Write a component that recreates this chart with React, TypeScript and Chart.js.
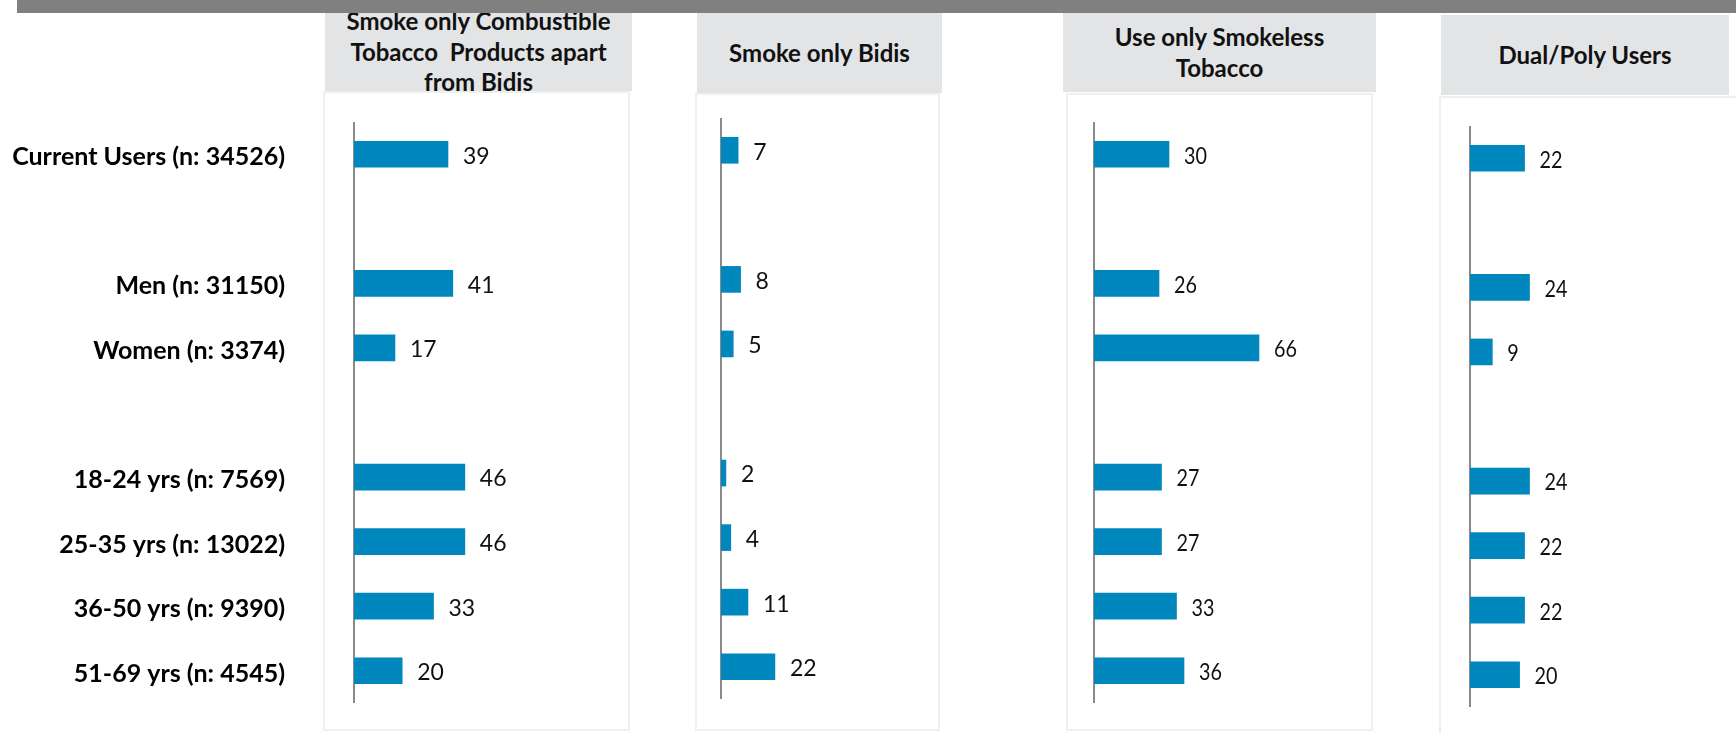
import React, { useEffect, useRef } from 'react';
import { Chart, registerables } from 'chart.js';

Chart.register(...registerables);

// ---------- data ----------
const categories = [
  'Current Users (n: 34526)',
  '',
  'Men (n: 31150)',
  'Women (n: 3374)',
  '',
  '18-24 yrs (n: 7569)',
  '25-35 yrs (n: 13022)',
  '36-50 yrs (n: 9390)',
  '51-69 yrs (n: 4545)',
];
const combustibleValues = [39, null, 41, 17, null, 46, 46, 33, 20];
const bidiValues = [7, null, 8, 5, null, 2, 4, 11, 22];
const smokelessValues = [30, null, 26, 66, null, 27, 27, 33, 36];
const dualPolyValues = [22, null, 24, 9, null, 24, 22, 22, 20];
const panelTitles = [
  'Smoke only Combustible\nTobacco  Products apart\nfrom Bidis',
  'Smoke only Bidis',
  'Use only Smokeless\nTobacco',
  'Dual/Poly Users',
];
const xMax = 100;

// ---------- layout (styles only) ----------
const BAR_COLOR = '#0088be';
const HEADER_BG = '#e3e4e6';

type PanelLayout = {
  header: { l: number; t: number; r: number; b: number };
  box: { l: number; t: number; r: number; b: number };
  axisX: number;
  axisTop: number;
  axisH: number;
  ppu: number;
  textScale: number;
  showLabels: boolean;
};

const layouts: PanelLayout[] = [
  { header: { l: 325, t: 13, r: 632, b: 91 }, box: { l: 323, t: 91, r: 630, b: 731 }, axisX: 354, axisTop: 122, axisH: 581, ppu: 2.41, textScale: 1, showLabels: true },
  { header: { l: 697, t: 13, r: 942, b: 93 }, box: { l: 695, t: 93, r: 940, b: 731 }, axisX: 721, axisTop: 118, axisH: 581, ppu: 2.45, textScale: 1, showLabels: false },
  { header: { l: 1063, t: 13, r: 1376, b: 92 }, box: { l: 1066, t: 93, r: 1373, b: 731 }, axisX: 1094, axisTop: 122, axisH: 581, ppu: 2.5, textScale: 0.86, showLabels: false },
  { header: { l: 1441, t: 15, r: 1729, b: 95 }, box: { l: 1439, t: 96, r: 1745, b: 740 }, axisX: 1470, axisTop: 126, axisH: 581, ppu: 2.48, textScale: 0.86, showLabels: false },
];

const valueLabelPlugin = {
  id: 'valueLabels',
  afterDatasetsDraw(chart: any, _args: any, opts: any) {
    const ctx = chart.ctx;
    const meta = chart.getDatasetMeta(0);
    const data = chart.data.datasets[0].data;
    ctx.save();
    ctx.font = `${opts.size}px Lato`;
    ctx.fillStyle = '#111111';
    ctx.textBaseline = 'middle';
    ctx.textAlign = 'left';
    meta.data.forEach((bar: any, i: number) => {
      const v = data[i];
      if (v === null || v === undefined) return;
      ctx.save();
      ctx.translate(bar.x + opts.gap, bar.y + opts.dy);
      ctx.scale(opts.scaleX, 1);
      ctx.fillText(String(v), 0, 0);
      ctx.restore();
    });
    ctx.restore();
  },
};

function BarPanel({ values, layout }: { values: (number | null)[]; layout: PanelLayout }) {
  const ref = useRef<HTMLCanvasElement | null>(null);
  const axisW = layout.showLabels ? layout.axisX : 10;
  const left = layout.axisX - axisW;
  const width = axisW + Math.round(xMax * layout.ppu);
  useEffect(() => {
    if (!ref.current) return;
    const chart = new Chart(ref.current, {
      type: 'bar',
      data: {
        labels: categories,
        datasets: [
          {
            data: values as any,
            backgroundColor: BAR_COLOR,
            borderWidth: 0,
            barThickness: 26,
          },
        ],
      },
      plugins: [valueLabelPlugin as any],
      options: {
        indexAxis: 'y',
        animation: false,
        responsive: false,
        maintainAspectRatio: false,
        layout: { padding: 0 },
        events: [],
        plugins: {
          legend: { display: false },
          tooltip: { enabled: false },
          valueLabels: { size: 23, gap: 15, dy: 2, scaleX: layout.textScale },
        } as any,
        scales: {
          x: { display: false, min: 0, max: xMax },
          y: {
            display: true,
            grid: { display: false, drawTicks: false },
            border: { display: true, color: '#8a8a8a', width: 2 },
            ticks: {
              display: layout.showLabels,
              autoSkip: false,
              padding: 69,
              labelOffset: 3,
              color: '#000000',
              font: { family: 'Lato', weight: 'bold', size: 25 },
            },
            afterFit: (s: any) => {
              s.width = axisW;
              s.paddingTop = 0;
              s.paddingBottom = 0;
            },
          } as any,
        },
      },
    });
    return () => chart.destroy();
  }, []);
  return (
    <canvas
      ref={ref}
      width={width}
      height={layout.axisH}
      style={{ position: 'absolute', left, top: layout.axisTop, width, height: layout.axisH }}
    />
  );
}

const seriesList = [combustibleValues, bidiValues, smokelessValues, dualPolyValues];

export default function App() {
  return (
    <div style={{ position: 'absolute', left: 0, top: 0, width: 1736, height: 733, overflow: 'hidden', background: '#ffffff', fontFamily: 'Lato, sans-serif' }}>
      <div style={{ position: 'absolute', left: 17, top: 0, width: 1719, height: 13, background: '#808080' }} />
      {layouts.map((ly, i) => (
        <div
          key={'h' + i}
          style={{
            position: 'absolute',
            left: ly.header.l,
            top: ly.header.t,
            width: ly.header.r - ly.header.l,
            height: ly.header.b - ly.header.t,
            background: HEADER_BG,
            overflow: 'hidden',
            display: 'flex',
            alignItems: 'center',
            justifyContent: 'center',
          }}
        >
          <div
            style={{
              whiteSpace: 'pre',
              textAlign: 'center',
              fontWeight: 700,
              fontSize: 24,
              lineHeight: '30.5px',
              color: '#111111',
              flexShrink: 0,
            }}
          >
            {panelTitles[i]}
          </div>
        </div>
      ))}
      {layouts.map((ly, i) => (
        <div
          key={'b' + i}
          style={{
            position: 'absolute',
            left: ly.box.l,
            top: ly.box.t,
            width: ly.box.r - ly.box.l,
            height: ly.box.b - ly.box.t,
            boxSizing: 'border-box',
            border: '2px solid #efefef',
            background: '#ffffff',
          }}
        />
      ))}
      {layouts.map((ly, i) => (
        <BarPanel key={'c' + i} values={seriesList[i]} layout={ly} />
      ))}
    </div>
  );
}
